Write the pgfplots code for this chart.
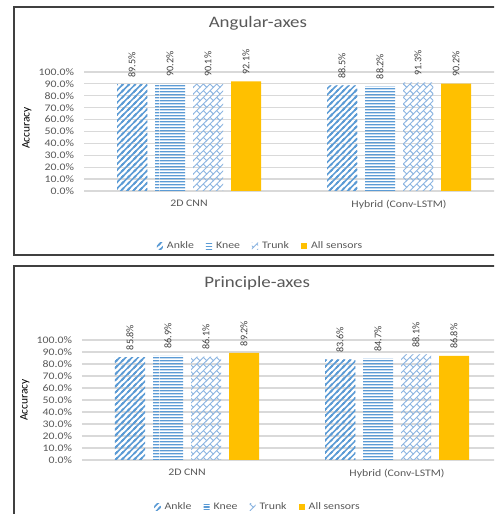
\documentclass[border=0pt]{standalone}
\usepackage{fontspec}
\setmainfont{Carlito}[FakeStretch=1.18]
\newfontfamily\lblfont{Carlito}
\usepackage{pgfplots}
\usepackage{pgfplotstable}
\pgfplotsset{compat=1.18}
\usetikzlibrary{patterns.meta}

\definecolor{xlblue}{HTML}{5B9BD5}
\definecolor{xllight}{HTML}{8DB6E2}
\definecolor{xlgold}{HTML}{FFC000}
\definecolor{xlgrid}{HTML}{D9D9D9}
\definecolor{xltext}{HTML}{595959}
\definecolor{xldark}{HTML}{404040}

% wide upward diagonal hatch
\pgfdeclarepattern{
  name=updiag,
  type=uncolored,
  bottom left={\pgfpoint{-1pt}{-1pt}},
  top right={\pgfpoint{5.6pt}{5.6pt}},
  tile size={\pgfpoint{4.6pt}{4.6pt}},
  code={
    \pgfsetlinewidth{1.15pt}
    \pgfpathmoveto{\pgfpoint{-1pt}{-1pt}}
    \pgfpathlineto{\pgfpoint{5.6pt}{5.6pt}}
    \pgfpathmoveto{\pgfpoint{-1pt}{3.6pt}}
    \pgfpathlineto{\pgfpoint{1pt}{5.6pt}}
    \pgfpathmoveto{\pgfpoint{3.6pt}{-1pt}}
    \pgfpathlineto{\pgfpoint{5.6pt}{1pt}}
    \pgfusepath{stroke}
  }
}

% narrow horizontal hatch (wide tile, so no vertical seams inside a bar)
\pgfdeclarepattern{
  name=horiz,
  type=uncolored,
  bottom left={\pgfpoint{0pt}{0pt}},
  top right={\pgfpoint{60pt}{2.1pt}},
  tile size={\pgfpoint{60pt}{2.1pt}},
  code={
    \pgfpathrectangle{\pgfpoint{0pt}{0.55pt}}{\pgfpoint{60pt}{1pt}}
    \pgfusepath{fill}
  }
}

% staggered diagonal "shingle" hatch
\pgfdeclarepattern{
  name=shingle,
  type=uncolored,
  bottom left={\pgfpoint{-0.5pt}{-0.5pt}},
  top right={\pgfpoint{5.5pt}{5.5pt}},
  tile size={\pgfpoint{5pt}{5pt}},
  code={
    \pgfsetlinewidth{0.7pt}
    \pgfpathmoveto{\pgfpoint{-0.5pt}{-0.5pt}}
    \pgfpathlineto{\pgfpoint{5.5pt}{5.5pt}}
    \pgfpathmoveto{\pgfpoint{2.5pt}{2.5pt}}
    \pgfpathlineto{\pgfpoint{5pt}{0pt}}
    \pgfusepath{stroke}
  }
}

\pgfplotstableread{
x ankle knee trunk all
0 89.5 90.2 90.1 92.1
1 88.5 88.2 91.3 90.2
}\angular

\pgfplotstableread{
x ankle knee trunk all
0 85.8 86.9 86.1 89.2
1 83.6 84.7 88.1 86.8
}\principle

\tikzset{
  axlabel/.style={font=\lblfont\fontsize{8.6}{10}\selectfont, text=black,
    rotate=90, anchor=center, inner sep=0pt},
}

\pgfplotsset{
  panel/.style={
    scale only axis,
    width=315pt,
    clip=false,
    ybar,
    bar width=22.5pt,
    xmin=-0.5, xmax=1.5,
    ymin=0, ymax=100,
    xtick={0,1},
    xticklabels={2D CNN, Hybrid (Conv-LSTM)},
    ytick={0,10,...,100},
    yticklabel={\pgfmathprintnumber[fixed,fixed zerofill,precision=1]{\tick}\%},
    /pgf/number format/assume math mode=true,
    major tick length=0pt,
    axis line style={draw=none},
    ymajorgrids,
    grid style={xlgrid, line width=0.9pt},
    tick label style={font=\fontsize{7.5}{9}\selectfont, text=xltext},
    yticklabel style={xshift=-4pt},
    xticklabel style={yshift=-3pt},
    every axis title shift=0pt,
    title style={font=\fontsize{12}{14}\selectfont, text=xltext, anchor=center},
    nodes near coords={\pgfmathprintnumber[fixed,fixed zerofill,precision=1]{\pgfplotspointmeta}\%},
    every node near coord/.append style={
      font=\lblfont\fontsize{7.6}{9}\selectfont, text=xldark,
      rotate=90, anchor=west, inner xsep=5pt, inner ysep=0pt},
    legend columns=4,
    legend cell align=left,
    legend style={draw=none, fill=none, font=\fontsize{7.5}{9}\selectfont,
      text=xltext, anchor=center,
      /tikz/every odd column/.append style={column sep=1pt},
      /tikz/every even column/.append style={column sep=7pt}},
    legend image code/.code={\path[#1, draw=none] (0pt,-2.3pt) rectangle (4.6pt,2.3pt);},
  },
  ankle/.style={draw=none, bar shift=-42.75pt, pattern=updiag, pattern color=xlblue},
  knee/.style={draw=none, bar shift=-14.25pt, pattern=horiz, pattern color=xlblue},
  trunk/.style={draw=none, bar shift=14.25pt, pattern=shingle, pattern color=xllight},
  allsens/.style={draw=none, bar shift=42.75pt, fill=xlgold},
}

\begin{document}
\begin{tikzpicture}
\useasboundingbox (0pt,0pt) rectangle (370.5pt,385.5pt);
\clip (0pt,0pt) rectangle (370.5pt,385.5pt);
\fill[white] (0pt,0pt) rectangle (370.5pt,385.5pt);

% panel frames
\draw[xldark, line width=1pt] (10.5pt,380.25pt) rectangle (400pt,194.25pt);
\draw[xldark, line width=1pt] (10.5pt,186pt) rectangle (400pt,-20pt);

% Angular-axes
\begin{axis}[panel,
  at={(63pt,242.25pt)}, anchor=south west, height=89.25pt,
  title={Angular-axes},
  title style={at={(axis description cs:0.414,1.412)}},
  legend style={at={(axis description cs:0.421,-0.462)}},
]
\addplot[ankle] table[x=x, y=ankle] {\angular};
\addplot[knee] table[x=x, y=knee] {\angular};
\addplot[trunk] table[x=x, y=trunk] {\angular};
\addplot[allsens] table[x=x, y=all] {\angular};
\legend{Ankle, Knee, Trunk, All sensors}
\node[axlabel] at (axis description cs:-0.136,0.53) {Accuracy};
\end{axis}

% Principle-axes
\begin{axis}[panel,
  at={(61.5pt,40.5pt)}, anchor=south west, height=90pt,
  title={Principle-axes},
  title style={at={(axis description cs:0.417,1.475)}},
  legend style={at={(axis description cs:0.42,-0.392)}},
]
\addplot[ankle] table[x=x, y=ankle] {\principle};
\addplot[knee] table[x=x, y=knee] {\principle};
\addplot[trunk] table[x=x, y=trunk] {\principle};
\addplot[allsens] table[x=x, y=all] {\principle};
\legend{Ankle, Knee, Trunk, All sensors}
\node[axlabel] at (axis description cs:-0.136,0.5) {Accuracy};
\end{axis}
\end{tikzpicture}
\end{document}
